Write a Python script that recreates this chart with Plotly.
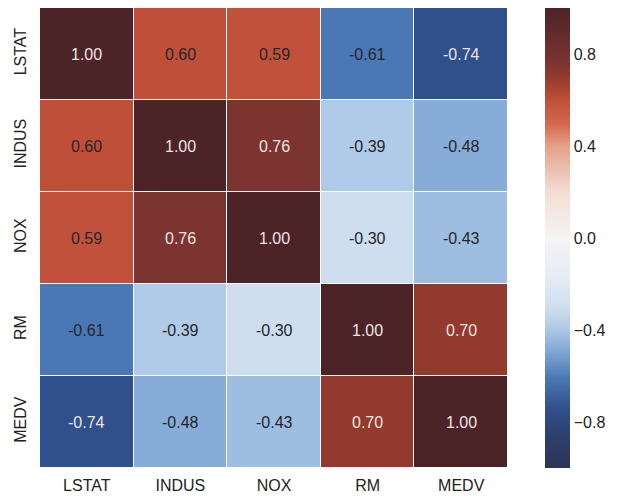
import plotly.graph_objects as go

# Correlation matrix of selected Boston housing features
features = ["LSTAT", "INDUS", "NOX", "RM", "MEDV"]
corr = [
    [1.00, 0.60, 0.59, -0.61, -0.74],
    [0.60, 1.00, 0.76, -0.39, -0.48],
    [0.59, 0.76, 1.00, -0.30, -0.43],
    [-0.61, -0.39, -0.30, 1.00, 0.70],
    [-0.74, -0.48, -0.43, 0.70, 1.00],
]
cbar_ticks = [-0.8, -0.4, 0.0, 0.4, 0.8]
cbar_labels = ["\u22120.8", "\u22120.4", "0.0", "0.4", "0.8"]

# muted diverging palette: navy -> near white -> brick red -> dark brown
colorscale = [
    [0.000, "#2c3457"],
    [0.070, "#2e3f6c"],
    [0.130, "#30508b"],
    [0.195, "#4a78b5"],
    [0.260, "#86acd7"],
    [0.285, "#9dbde1"],
    [0.305, "#b0cbe7"],
    [0.350, "#cfdeef"],
    [0.420, "#e6edf5"],
    [0.500, "#f5f4f4"],
    [0.600, "#f3ddd5"],
    [0.700, "#e4a088"],
    [0.750, "#d2674c"],
    [0.800, "#bf4f38"],
    [0.850, "#933a2e"],
    [0.880, "#7c3430"],
    [1.000, "#4c2428"],
]

fig = go.Figure(
    go.Heatmap(
        z=corr,
        x=features,
        y=features,
        zmin=-1,
        zmax=1,
        colorscale=colorscale,
        xgap=1,
        ygap=1,
        colorbar=dict(
            tickvals=cbar_ticks,
            ticktext=cbar_labels,
            thickness=25,
            len=1.0,
            lenmode="fraction",
            x=1.079,
            xanchor="left",
            y=0.5,
            yanchor="middle",
            outlinewidth=0,
            ticks="",
            ticklabelposition="outside",
            tickfont=dict(size=16, color="#222222"),
            xpad=0,
            ypad=0,
        ),
    )
)

# cell annotations, light text on the darkest cells
for i, row_name in enumerate(features):
    for j, col_name in enumerate(features):
        v = corr[i][j]
        color = "#ece3e3" if abs(v) >= 0.7 else "#24262c"
        fig.add_annotation(
            x=col_name,
            y=row_name,
            text=f"{v:.2f}",
            showarrow=False,
            font=dict(size=16, color=color, family="Liberation Sans, Arial, sans-serif"),
        )

fig.update_xaxes(
    showgrid=False,
    zeroline=False,
    ticks="",
    automargin=False,
    ticklabelstandoff=6,
    tickfont=dict(size=16, color="#222222"),
)
fig.update_yaxes(
    showgrid=False,
    zeroline=False,
    ticks="",
    automargin=False,
    autorange="reversed",
    tickangle=-90,
    ticklabelstandoff=10,
    tickfont=dict(size=16, color="#222222"),
)

fig.update_layout(
    width=617,
    height=497,
    margin=dict(l=40, r=109, t=8, b=29, autoexpand=False),
    paper_bgcolor="white",
    plot_bgcolor="white",
    font=dict(family="Liberation Sans, Arial, sans-serif"),
)

fig.write_html("out.html")
